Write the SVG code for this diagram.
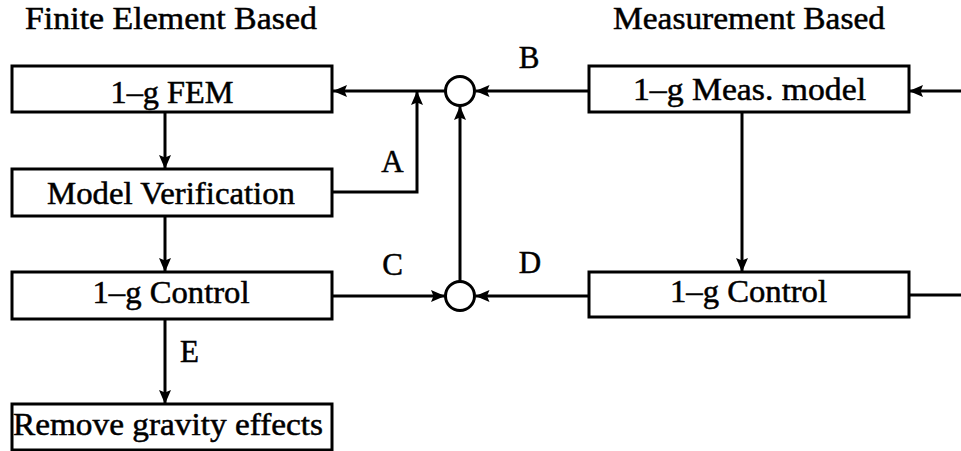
<svg xmlns="http://www.w3.org/2000/svg" width="961" height="451" viewBox="0 0 961 451">
  <style>
    .box { fill: #ffffff; stroke: #000000; stroke-width: 3; }
    .sum { fill: #ffffff; stroke: #000000; stroke-width: 3; }
    .wire { fill: none; stroke: #000000; stroke-width: 3; }
    .arrow { marker-end: url(#head); }
    text { font-family: "Liberation Serif", "Times New Roman", serif; font-size: 31px; fill: #000000; stroke: #000000; stroke-width: 0.5px; }
    .mid { text-anchor: middle; }
  </style>
  <defs>
    <marker id="head" viewBox="0 0 14 12" refX="14" refY="6" markerWidth="14" markerHeight="12" markerUnits="userSpaceOnUse" orient="auto">
      <path d="M0,0 L14,6 L0,12 L2.5,6 z" fill="#000000"/>
    </marker>
  </defs>

  <rect width="961" height="451" fill="#ffffff"/>

  <!-- column headings -->
  <text x="25" y="29" textLength="292" lengthAdjust="spacingAndGlyphs">Finite Element Based</text>
  <text x="613" y="29" textLength="272" lengthAdjust="spacingAndGlyphs">Measurement Based</text>

  <!-- connectors -->
  <g id="connectors">
    <line class="wire arrow" x1="445" y1="91" x2="333" y2="91"/>
    <polyline class="wire arrow" points="332,192 417,192 417,91"/>
    <line class="wire arrow" x1="589" y1="91" x2="475.5" y2="91"/>
    <line class="wire arrow" x1="961" y1="91" x2="909" y2="91"/>
    <line class="wire arrow" x1="742" y1="112" x2="742" y2="272"/>
    <line class="wire arrow" x1="332" y1="296" x2="445" y2="296"/>
    <line class="wire arrow" x1="589" y1="296" x2="475.5" y2="296"/>
    <line class="wire arrow" x1="460" y1="281" x2="460" y2="106"/>
    <line class="wire" x1="909" y1="295" x2="961" y2="295"/>
    <line class="wire arrow" x1="165" y1="112" x2="165" y2="169"/>
    <line class="wire arrow" x1="165" y1="216" x2="165" y2="272"/>
    <line class="wire arrow" x1="165" y1="319" x2="165" y2="404"/>
    <text class="mid" x="392.5" y="172">A</text>
    <text class="mid" x="529" y="68">B</text>
    <text class="mid" x="392.5" y="275">C</text>
    <text class="mid" x="530" y="273">D</text>
    <text class="mid" x="189.5" y="362">E</text>
  </g>

  <!-- summing junctions -->
  <g id="sum-top">
    <circle class="sum" cx="460" cy="91" r="14.5"/>
  </g>
  <g id="sum-bottom">
    <circle class="sum" cx="460" cy="296" r="14.5"/>
  </g>

  <!-- finite element branch -->
  <g id="fem">
    <rect class="box" x="12" y="66" width="320" height="46"/>
    <text class="mid" x="172" y="103" textLength="123" lengthAdjust="spacingAndGlyphs">1–g FEM</text>
  </g>
  <g id="verification">
    <rect class="box" x="12" y="169" width="320" height="47"/>
    <text class="mid" x="171" y="204" textLength="248" lengthAdjust="spacingAndGlyphs">Model Verification</text>
  </g>
  <g id="fem-control">
    <rect class="box" x="12" y="272" width="320" height="47"/>
    <text class="mid" x="171" y="303" textLength="157" lengthAdjust="spacingAndGlyphs">1–g Control</text>
  </g>
  <g id="gravity">
    <rect class="box" x="12" y="404" width="320" height="46"/>
    <text class="mid" x="168" y="435" textLength="310" lengthAdjust="spacingAndGlyphs">Remove gravity effects</text>
  </g>

  <!-- measurement branch -->
  <g id="meas-model">
    <rect class="box" x="589" y="66" width="320" height="46"/>
    <text class="mid" x="749.5" y="100" textLength="233" lengthAdjust="spacingAndGlyphs">1–g Meas. model</text>
  </g>
  <g id="meas-control">
    <rect class="box" x="589" y="272" width="320" height="45"/>
    <text class="mid" x="748.5" y="302" textLength="157" lengthAdjust="spacingAndGlyphs">1–g Control</text>
  </g>
</svg>
